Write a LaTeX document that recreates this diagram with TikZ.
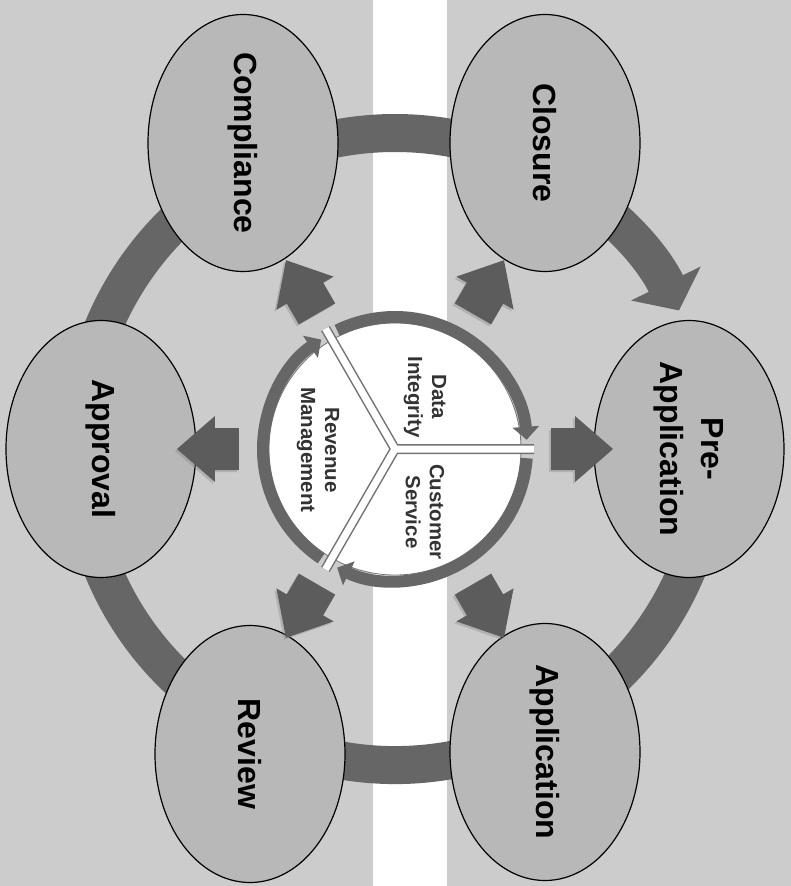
\documentclass[tikz,border=0pt]{standalone}
\usepackage{fontspec}
\setmainfont{Liberation Sans}
\usetikzlibrary{arrows.meta, shapes.geometric, shadows}
\definecolor{cycle-bg}{gray}{0.80}
\definecolor{cycle-oval}{gray}{0.72}
\definecolor{cycle-band}{gray}{0.40}
\definecolor{cycle-block}{gray}{0.36}

\begin{document}
\begin{tikzpicture}[x=1pt, y=1pt,
  stage/.style={ellipse, draw=black, line width=1.2pt, fill=cycle-oval, rotate=-90, minimum width=257pt, minimum height=190pt, inner sep=0pt, align=center, font=\fontsize{32}{41}\selectfont\bfseries},
  hublabel/.style={rotate=-90, align=center, text=black!80, font=\fontsize{20.5}{24}\selectfont\bfseries},
  band/.style={line width=38pt, cycle-band},
  ring/.style={line width=12pt, cycle-band, -{Triangle[width=26pt,length=13pt]}},
  blockarr/.style={fill=cycle-block, drop shadow={opacity=0.35, shadow xshift=-2pt, shadow yshift=-2pt}},
]
  % background with the white stripe
  \fill[cycle-bg] (-395,-437) rectangle (396,449);
  \fill[white] (-22,-437) rectangle (52,449);
  \coordinate (hub) at (0,0);

  % outer band
  \draw[band] ([shift={(20:316)}]hub) arc[start angle=20, end angle=-296, radius=316];
  \draw[band, -{Triangle[width=76pt,length=30pt]}] ([shift={(64:316)}]hub) arc[start angle=64, end angle=26, radius=316];

  \node[stage] (compliance) at (-152,306) {Compliance};
  \node[stage] (closure) at (150,306) {Closure};
  \node[stage] (preapp) at (294,0) {Pre-\\Application};
  \node[stage] (application) at (150,-303) {Application};
  \node[stage] (review) at (-145,-305) {Review};
  \node[stage] (approval) at (-294,0) {Approval};

  % block arrows out of the hub
  \foreach \a in {0,60,...,300}
    \fill[blockarr, rotate=\a] (156,-21) -- (180,-21) -- (180,-33) -- (218,0) -- (180,33) -- (180,21) -- (156,21) -- cycle;

  % hub
  \fill[white, draw=black!55, line width=0.8pt] (hub) circle[radius=126];
  \draw[black!55, line width=10pt] (0:139) -- (hub) -- (120:139) (hub) -- (240:139);
  \draw[white, line width=7pt] (0:139) -- (hub) -- (120:139) (hub) -- (240:139);
  \draw[ring] ([shift={(116:132)}]hub) arc[start angle=116, end angle=4, radius=132];
  \draw[ring] ([shift={(-4:132)}]hub) arc[start angle=-4, end angle=-116, radius=132];
  \draw[ring] ([shift={(236:132)}]hub) arc[start angle=236, end angle=124, radius=132];

  \node[hublabel] (integrity) at (30,52) {Data\\Integrity};
  \node[hublabel] (service) at (30,-63) {Customer\\Service};
  \node[hublabel] (revenue) at (-77,-1) {Revenue\\Management};
\end{tikzpicture}
\end{document}
